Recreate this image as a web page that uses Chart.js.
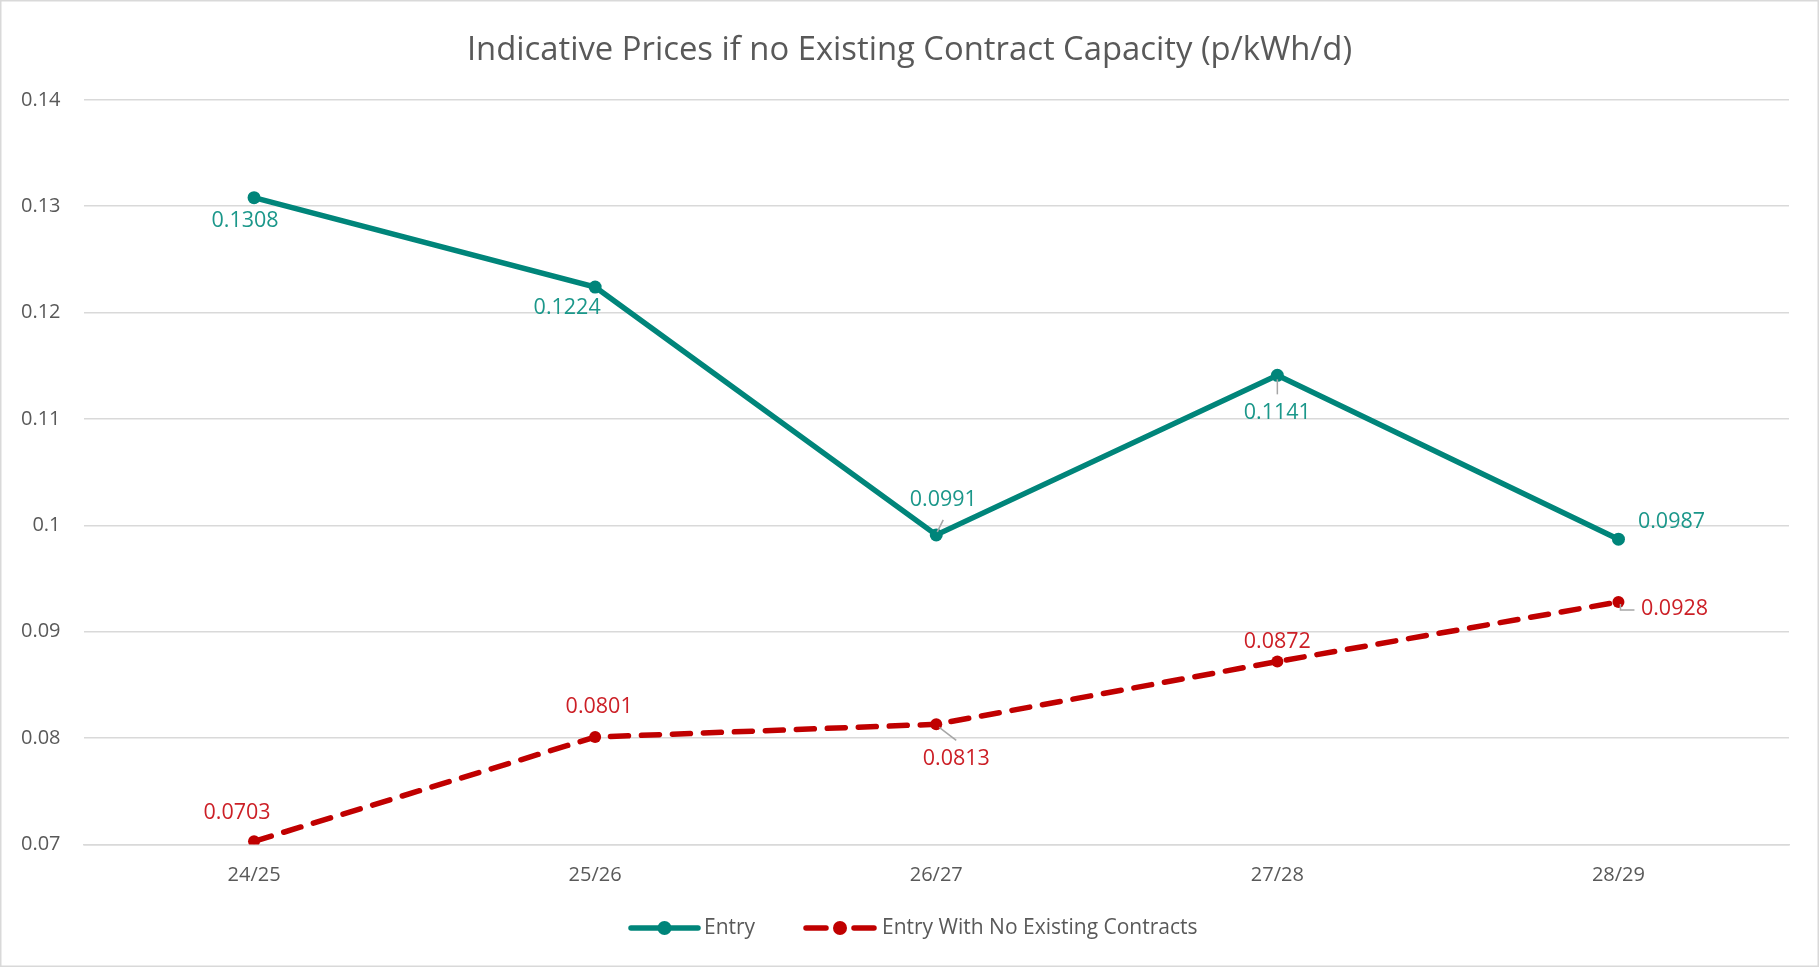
<!DOCTYPE html>
<html>
<head>
<meta charset="utf-8">
<title>Indicative Prices</title>
<script src="https://cdn.jsdelivr.net/npm/chart.js@4.4.1/dist/chart.umd.min.js"></script>
<style>
  html, body { margin: 0; padding: 0; background: #fff; }
  #wrap { width: 1819px; height: 967px; position: relative; }
</style>
</head>
<body>
<div id="wrap"><canvas id="priceChart"></canvas></div>
<script>
// ================= DATA =================
const categories = ["24/25", "25/26", "26/27", "27/28", "28/29"];
const entryValues = [0.1308, 0.1224, 0.0991, 0.1141, 0.0987];
const noContractValues = [0.0703, 0.0801, 0.0813, 0.0872, 0.0928];
const yTickValues = [0.07, 0.08, 0.09, 0.1, 0.11, 0.12, 0.13, 0.14];

const chartTitle = "Indicative Prices if no Existing Contract Capacity (p/kWh/d)";
const seriesNames = ["Entry", "Entry With No Existing Contracts"];

// ================= STYLE =================
const FONT = "'Open Sans', sans-serif";
const TEAL = "#00857a";
const TEAL_TEXT = "#1b978a";
const RED = "#c00000";
const RED_TEXT = "#cc1f26";
const GRID = "#d9d9d9";
const TEXT = "#595959";

// label offsets from each point (px), and optional leader lines
const labelOffsets = [
  [[-9, 23], [-28, 21], [7, -35], [0, 38], [53, -17]],
  [[-17, -28], [4, -30], [20, 35], [0, -20], [56, 7]]
];
const leaderLines = [
  { 2: [[1, -3], [7, -15]], 3: [[0, 4], [0, 19]] },
  { 2: [[3, 3], [20, 16]], 4: [[2, 2], [2, 8], [16, 8]] }
];

// ================= PLUGINS =================
// frame + title (title centred on the whole canvas, like the original)
const frame = {
  id: "frame",
  afterDraw(chart) {
    const ctx = chart.ctx;
    ctx.save();
    ctx.strokeStyle = GRID;
    ctx.lineWidth = 1.5;
    ctx.strokeRect(0.75, 0.75, chart.width - 1.5, chart.height - 1.5);

    ctx.font = "32.8px " + FONT;
    ctx.fillStyle = TEXT;
    ctx.textAlign = "center";
    ctx.textBaseline = "middle";
    ctx.fillText(chartTitle, chart.width / 2, 50.5);
    ctx.restore();
  }
};

const dataLabels = {
  id: "dataLabels",
  afterDatasetsDraw(chart) {
    const ctx = chart.ctx;
    ctx.save();
    ctx.font = "21.5px " + FONT;
    ctx.textAlign = "center";
    ctx.textBaseline = "middle";
    chart.data.datasets.forEach((ds, d) => {
      const meta = chart.getDatasetMeta(d);
      meta.data.forEach((pt, i) => {
        const lines = leaderLines[d][i];
        if (lines) {
          ctx.strokeStyle = "#a6a6a6";
          ctx.lineWidth = 1.5;
          ctx.beginPath();
          lines.forEach((p, k) => {
            if (k === 0) ctx.moveTo(pt.x + p[0], pt.y + p[1]);
            else ctx.lineTo(pt.x + p[0], pt.y + p[1]);
          });
          ctx.stroke();
        }
        const off = labelOffsets[d][i];
        ctx.fillStyle = d === 0 ? TEAL_TEXT : RED_TEXT;
        ctx.fillText(ds.data[i].toFixed(4), pt.x + off[0], pt.y + off[1]);
      });
    });
    ctx.restore();
  }
};

const customLegend = {
  id: "customLegend",
  afterDraw(chart) {
    const ctx = chart.ctx;
    const y = 928;
    ctx.save();
    ctx.lineCap = "round";

    // Entry
    ctx.strokeStyle = TEAL;
    ctx.lineWidth = 5.5;
    ctx.beginPath();
    ctx.moveTo(631, y);
    ctx.lineTo(698, y);
    ctx.stroke();
    ctx.fillStyle = TEAL;
    ctx.beginPath();
    ctx.arc(664.5, y, 7, 0, Math.PI * 2);
    ctx.fill();

    // Entry With No Existing Contracts
    ctx.strokeStyle = RED;
    ctx.beginPath();
    ctx.moveTo(806, y);
    ctx.lineTo(826, y);
    ctx.moveTo(854, y);
    ctx.lineTo(874, y);
    ctx.stroke();
    ctx.fillStyle = RED;
    ctx.beginPath();
    ctx.arc(840, y, 7, 0, Math.PI * 2);
    ctx.fill();

    ctx.font = "21px " + FONT;
    ctx.fillStyle = TEXT;
    ctx.textAlign = "left";
    ctx.textBaseline = "middle";
    ctx.fillText(seriesNames[0], 704, y);
    ctx.fillText(seriesNames[1], 882, y);
    ctx.restore();
  }
};

// ================= CHART =================
Chart.defaults.font.family = FONT;
Chart.defaults.color = TEXT;

new Chart(document.getElementById("priceChart"), {
  type: "line",
  data: {
    labels: categories,
    datasets: [
      {
        label: seriesNames[0],
        data: entryValues,
        borderColor: TEAL,
        backgroundColor: TEAL,
        borderWidth: 5.5,
        pointRadius: 6.5,
        pointHoverRadius: 6.5,
        pointBorderWidth: 0,
        tension: 0
      },
      {
        label: seriesNames[1],
        data: noContractValues,
        borderColor: RED,
        backgroundColor: RED,
        borderWidth: 5.5,
        borderDash: [18, 13],
        borderCapStyle: "round",
        pointRadius: 6,
        pointHoverRadius: 6,
        pointBorderWidth: 0,
        tension: 0
      }
    ]
  },
  options: {
    responsive: true,
    maintainAspectRatio: false,
    animation: false,
    layout: { padding: { left: 0, right: 30, top: 99.8, bottom: 82.5 } },
    plugins: {
      legend: { display: false },
      tooltip: { enabled: false },
      title: { display: false }
    },
    scales: {
      x: {
        offset: true,
        grid: { display: false, drawTicks: false },
        border: { display: true, color: GRID, width: 1.5 },
        ticks: { font: { size: 20 }, color: TEXT, padding: 19 },
        afterFit(scale) { scale.height = 40; }
      },
      y: {
        min: 0.07,
        max: 0.14,
        afterBuildTicks(scale) {
          scale.ticks = yTickValues.map(v => ({ value: v }));
        },
        grid: { color: GRID, lineWidth: 1.5, drawTicks: false },
        border: { display: false },
        ticks: {
          font: { size: 20 },
          color: TEXT,
          padding: 23,
          callback: v => String(Number(v.toFixed(2)))
        },
        afterFit(scale) { scale.width = 83.5; }
      }
    }
  },
  plugins: [frame, dataLabels, customLegend]
});
</script>
</body>
</html>
